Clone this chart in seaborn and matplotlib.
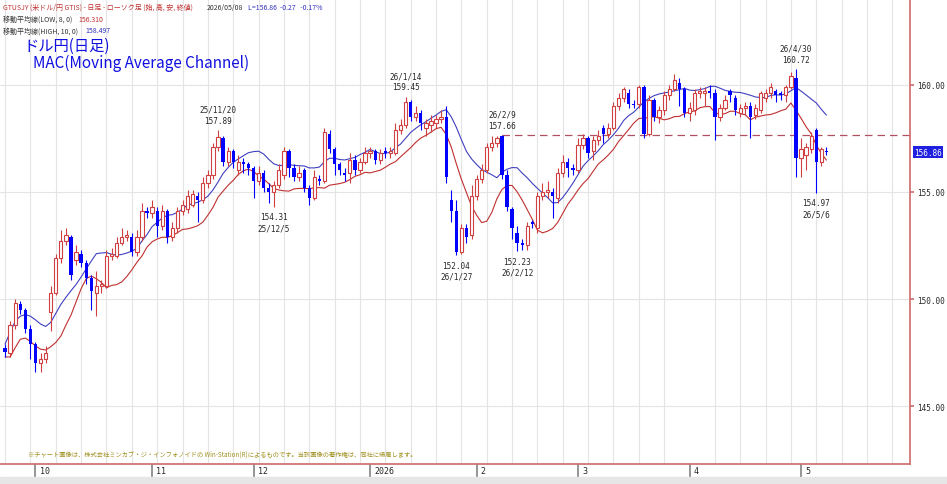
import numpy as np
import pandas as pd
import seaborn as sns
import matplotlib.pyplot as plt
from matplotlib.ticker import MultipleLocator
from matplotlib.transforms import ScaledTranslation

sns.set_theme(style="white")
plt.rcParams['font.family'] = ['Noto Sans CJK JP', 'DejaVu Sans']

# daily OHLC, USD/JPY
opens = [147.7, 147.5, 148.8, 149.75, 149.5, 148.6, 147.9, 147.0, 147.2, 149.4,
         150.3, 151.9, 152.7, 152.9, 151.8, 152.1, 151.7, 151.0, 150.3, 150.6,
         150.6, 152.0, 152.0, 152.6, 152.9, 152.9, 152.2, 152.9, 154.1, 154.0,
         154.1, 153.4, 154.1, 152.9, 153.3, 154.1, 154.2, 154.4, 154.8, 154.6,
         155.4, 155.8, 157.1, 157.5, 156.4, 156.9, 156.0, 156.4, 156.3, 156.1,
         155.5, 155.9, 155.2, 155.0, 155.3, 155.8, 156.9, 156.1, 155.7, 156.0,
         155.2, 154.7, 155.6, 155.5, 157.7, 157.0, 156.3, 155.9, 155.9, 156.5,
         156.0, 156.4, 156.8, 156.9, 156.5, 156.9, 156.8, 156.8, 157.9, 158.1,
         159.2, 158.5, 158.7, 158.0, 158.1, 158.2, 158.4, 158.5, 154.6, 154.1,
         152.2, 153.3, 153.0, 154.8, 155.6, 156.0, 157.1, 157.3, 157.6, 155.8,
         154.2, 153.1, 152.6, 152.5, 153.6, 153.3, 154.8, 155.0, 155.0, 154.7,
         155.9, 156.4, 156.1, 156.0, 157.2, 157.5, 156.9, 157.4, 158.0, 157.7,
         158.0, 159.0, 159.4, 159.6, 159.1, 159.1, 159.9, 157.7, 159.3, 158.5,
         158.8, 159.5, 159.8, 160.1, 159.8, 158.7, 158.8, 159.6, 159.6, 159.7,
         159.6, 158.5, 158.9, 159.7, 159.4, 158.7, 158.9, 159.0, 158.6, 158.8,
         159.4, 159.6, 159.7, 159.6, 159.5, 159.9, 160.3, 156.6, 156.7, 157.0,
         157.9, 156.4, 156.9]
closes = [147.55, 148.8, 149.8, 149.5, 148.6, 147.9, 147.0, 147.2, 147.5, 150.3,
          151.9, 152.7, 153.0, 151.1, 152.2, 151.7, 151.0, 150.4, 150.6, 150.7,
          152.0, 152.1, 152.6, 152.9, 153.0, 152.2, 152.9, 154.1, 154.0, 154.3,
          153.4, 154.1, 152.9, 153.3, 154.1, 154.4, 154.8, 154.9, 154.6, 155.4,
          155.8, 157.1, 157.55, 156.4, 156.9, 156.4, 156.4, 156.3, 156.1, 155.5,
          155.9, 155.2, 155.0, 155.3, 156.0, 156.9, 156.1, 155.7, 155.9, 155.2,
          154.7, 155.7, 155.5, 157.8, 157.0, 156.3, 156.0, 155.8, 156.5, 156.0,
          156.4, 156.8, 156.9, 156.5, 156.8, 156.8, 156.9, 157.9, 158.1, 159.2,
          158.5, 158.7, 158.2, 158.2, 158.3, 158.4, 158.5, 155.7, 154.1, 152.2,
          153.3, 152.9, 154.8, 155.6, 156.0, 157.1, 157.3, 157.5, 155.8, 154.3,
          153.3, 152.6, 152.5, 153.4, 153.5, 154.8, 155.0, 155.1, 154.8, 155.9,
          156.4, 156.1, 156.0, 157.2, 157.5, 156.8, 157.4, 157.6, 157.7, 158.0,
          159.0, 159.4, 159.8, 159.1, 159.05, 159.9, 157.7, 159.3, 158.5, 158.8,
          159.5, 159.8, 160.2, 159.8, 158.7, 158.9, 159.6, 159.7, 159.7, 159.6,
          158.5, 158.9, 159.3, 159.5, 158.8, 158.9, 159.0, 158.5, 158.9, 159.6,
          159.6, 159.9, 159.5, 159.5, 159.9, 160.4, 156.6, 157.0, 157.1, 157.6,
          156.4, 157.0, 156.86]
highs = [147.9, 149.0, 150.0, 149.9, 149.6, 148.8, 148.0, 147.5, 147.8, 150.6,
         152.1, 153.2, 153.3, 153.0, 152.5, 152.3, 151.8, 151.1, 151.3, 150.9,
         152.3, 152.4, 152.9, 153.3, 153.2, 153.1, 153.2, 154.5, 154.3, 154.6,
         154.3, 154.4, 154.2, 153.6, 154.3, 154.6, 155.1, 155.1, 155.0, 155.7,
         156.0, 157.3, 157.89, 157.6, 157.1, 157.0, 156.7, 156.6, 156.4, 156.2,
         156.2, 156.0, 155.4, 155.5, 156.3, 157.1, 157.0, 156.3, 156.2, 156.1,
         155.3, 156.0, 155.8, 158.0, 157.9, 157.1, 156.4, 156.1, 156.8, 156.7,
         156.6, 157.1, 157.1, 157.0, 157.0, 157.1, 157.1, 158.2, 158.4, 159.45,
         159.3, 159.0, 158.8, 158.4, 158.6, 158.6, 158.8, 159.0, 155.1, 154.6,
         153.5, 153.5, 155.3, 155.8, 156.3, 157.3, 157.6, 157.6, 157.66, 156.0,
         154.3, 153.4, 152.8, 153.6, 153.7, 155.0, 155.4, 155.5, 155.2, 156.1,
         156.7, 156.6, 156.3, 157.5, 157.7, 157.6, 157.6, 157.9, 158.1, 158.2,
         159.2, 159.6, 159.9, 159.8, 159.3, 160.0, 160.0, 159.5, 159.4, 159.0,
         159.7, 160.0, 160.5, 160.3, 159.9, 159.2, 159.8, 159.9, 159.9, 160.0,
         159.8, 159.1, 159.5, 159.8, 159.5, 159.1, 159.2, 159.2, 159.1, 159.7,
         159.8, 160.1, 159.8, 159.7, 160.0, 160.6, 160.72, 157.5, 157.3, 157.8,
         158.0, 157.1, 157.1]
lows = [147.3, 147.3, 148.6, 149.3, 148.4, 147.2, 146.6, 146.6, 147.0, 148.5,
        150.2, 151.7, 152.5, 150.9, 151.6, 151.5, 150.7, 149.5, 149.2, 150.3,
        150.5, 151.8, 151.9, 152.5, 152.7, 152.0, 152.0, 152.7, 153.8, 153.8,
        152.9, 153.2, 152.6, 152.7, 153.1, 153.9, 154.0, 154.3, 153.6, 154.5,
        155.2, 155.6, 156.9, 156.2, 156.2, 156.1, 155.8, 155.9, 155.8, 154.7,
        155.3, 155.0, 154.5, 154.31, 155.2, 155.6, 155.7, 155.5, 155.5, 155.0,
        154.4, 154.6, 155.3, 155.4, 156.8, 155.8, 155.8, 155.5, 155.4, 155.8,
        155.9, 156.3, 156.6, 156.3, 156.3, 156.6, 156.6, 156.7, 157.7, 158.0,
        158.3, 158.3, 157.9, 157.6, 157.8, 158.0, 158.2, 155.4, 153.6, 152.04,
        152.1, 152.6, 152.8, 154.6, 155.4, 155.9, 156.9, 157.1, 155.6, 154.1,
        152.8, 152.23, 152.3, 152.3, 153.3, 153.1, 154.6, 154.7, 153.8, 154.5,
        155.7, 155.7, 155.8, 155.9, 157.0, 156.6, 156.5, 157.2, 157.3, 157.5,
        157.9, 158.8, 159.2, 158.9, 158.9, 158.9, 157.5, 157.6, 158.3, 158.2,
        158.6, 159.3, 159.7, 159.0, 158.5, 158.3, 158.6, 159.4, 159.0, 159.4,
        157.4, 158.3, 158.8, 159.2, 158.6, 158.5, 158.6, 157.5, 158.4, 158.7,
        159.2, 159.4, 159.2, 159.3, 159.2, 159.8, 155.7, 155.7, 156.0, 156.8,
        154.97, 156.2, 156.7]

month_idx = [6, 29, 49, 72, 93, 113, 135, 157]
month_labels = ['10', '11', '12', '2026', '2', '3', '4', '5']

peak_idx = [42, 79, 98, 156]
peak_dates = ['25/11/20', '26/1/14', '26/2/9', '26/4/30']
trough_idx = [53, 89, 101, 160]
trough_dates = ['25/12/5', '26/1/27', '26/2/12', '26/5/6']
ref_level_idx = 98   # dashed resistance from 26/2/9 high

df = pd.DataFrame({'o': opens, 'h': highs, 'l': lows, 'c': closes})
df['i'] = np.arange(len(df))
df['ma_high'] = df['h'].rolling(10, min_periods=1).mean()
df['ma_low'] = df['l'].rolling(8, min_periods=1).mean()

UP = '#d04040'
DN = '#0000ff'

fig = plt.figure(figsize=(9.47, 4.85), dpi=100)
ax = fig.add_axes([0.0, 0.041, 0.961, 0.959])

ax.set_xlim(-1, 178.5)
ax.set_ylim(142.3, 164.0)

# grid
ax.xaxis.set_minor_locator(MultipleLocator(5))
ax.grid(which='minor', axis='x', color='#e4e4e4', lw=0.8)
ax.set_yticks([145, 150, 155, 160])
ax.grid(which='major', axis='y', color='#e4e4e4', lw=0.8)

# MA channel
sns.lineplot(data=df, x='i', y='ma_high', ax=ax, color='#4040c0', lw=0.8)
sns.lineplot(data=df, x='i', y='ma_low', ax=ax, color='#c03030', lw=0.8)

# candles
up = df[df['c'] >= df['o']]
dn = df[df['c'] < df['o']]
ax.vlines(up['i'], up['h'], up['l'], color=UP, lw=0.8, zorder=3)
ax.vlines(dn['i'], dn['h'], dn['l'], color=DN, lw=0.8, zorder=3)
ax.bar(up['i'], (up['c'] - up['o']).clip(lower=0.04), bottom=up['o'], width=0.65,
       facecolor='white', edgecolor=UP, lw=0.8, zorder=4)
ax.bar(dn['i'], dn['o'] - dn['c'], bottom=dn['c'], width=0.65,
       color=DN, lw=0, zorder=4)

# resistance line
lvl = df['h'][ref_level_idx]
ax.plot([ref_level_idx, 178.5], [lvl, lvl], color='#b05060', lw=0.9,
        dashes=(6, 4), zorder=2)

# annotations
for idx, d in zip(peak_idx, peak_dates):
    ax.text(idx, df['h'][idx] + 0.25, f"{d}\n{df['h'][idx]:.2f}", ha='center',
            va='bottom', fontsize=5.5, family='DejaVu Sans Mono', linespacing=1.3)
for idx, d in zip(trough_idx, trough_dates):
    ax.text(idx, df['l'][idx] - 0.25, f"{df['l'][idx]:.2f}\n{d}", ha='center',
            va='top', fontsize=5.5, family='DejaVu Sans Mono', linespacing=1.3)

# axes styling
for s in ['top', 'left']:
    ax.spines[s].set_visible(False)
ax.spines['right'].set_color('#d07070')
ax.spines['bottom'].set_color('#d07070')
ax.yaxis.tick_right()
ax.set_yticklabels([f'{v:.2f}' for v in [145, 150, 155, 160]], fontsize=5.5,
                   family='DejaVu Sans Mono')
ax.tick_params(axis='y', length=3, pad=2, right=True, color='#d07070')
ax.set_xticks(month_idx)
ax.set_xticklabels(month_labels, fontsize=6, family='DejaVu Sans Mono', ha='left')
ax.tick_params(axis='x', length=9, pad=1, bottom=True, direction='out', color='#888888')
shift = ScaledTranslation(3 / 72, 9 / 72, fig.dpi_scale_trans)
for lab in ax.get_xticklabels():
    lab.set_transform(lab.get_transform() + shift)
ax.set_xlabel('')
ax.set_ylabel('')

last = df['c'].iloc[-1]
ax.text(1.004, last, f'{last:.2f}', transform=ax.get_yaxis_transform(),
        fontsize=5.5, color='white', va='center', family='DejaVu Sans Mono',
        bbox=dict(boxstyle='square,pad=0.15', fc='#2020e0', ec='none'))

# header
fig.text(0.003, 0.992, 'GTUSJY (米ドル/円 GTIS) - 日足 - ローソク足 (始, 高, 安, 終値)',
         color='#c03030', fontsize=5, va='top')
fig.text(0.218, 0.992, '2026/05/08', color='#333333', fontsize=5, va='top')
fig.text(0.262, 0.992, 'L=156.86  -0.27   -0.17%', color='#3030c0', fontsize=5, va='top')
fig.text(0.003, 0.968, '移動平均線(LOW, 8, 0)', color='#333333', fontsize=5, va='top')
fig.text(0.083, 0.968, '156.310', color='#c03030', fontsize=5, va='top')
fig.text(0.003, 0.944, '移動平均線(HIGH, 10, 0)', color='#333333', fontsize=5, va='top')
fig.text(0.09, 0.944, '158.497', color='#3030c0', fontsize=5, va='top')
fig.text(0.025, 0.922, 'ドル円(日足)', color='#1010e0', fontsize=11, va='top')
fig.text(0.035, 0.887, 'MAC(Moving Average Channel)', color='#1010e0', fontsize=11,
         va='top')
fig.text(0.03, 0.063,
         '※チャート画像は、株式会社ミンカブ・ジ・インフォノイドの Win-Station(R)によるものです。当該画像の著作権は、同社に帰属します。',
         color='#a09020', fontsize=4.5, va='center')

# grey strip at the very bottom
fig.patches.append(plt.Rectangle((0, 0), 1, 0.014, transform=fig.transFigure,
                                 color='#e6e6e6', zorder=0))

fig.savefig('out.png', dpi=100)
